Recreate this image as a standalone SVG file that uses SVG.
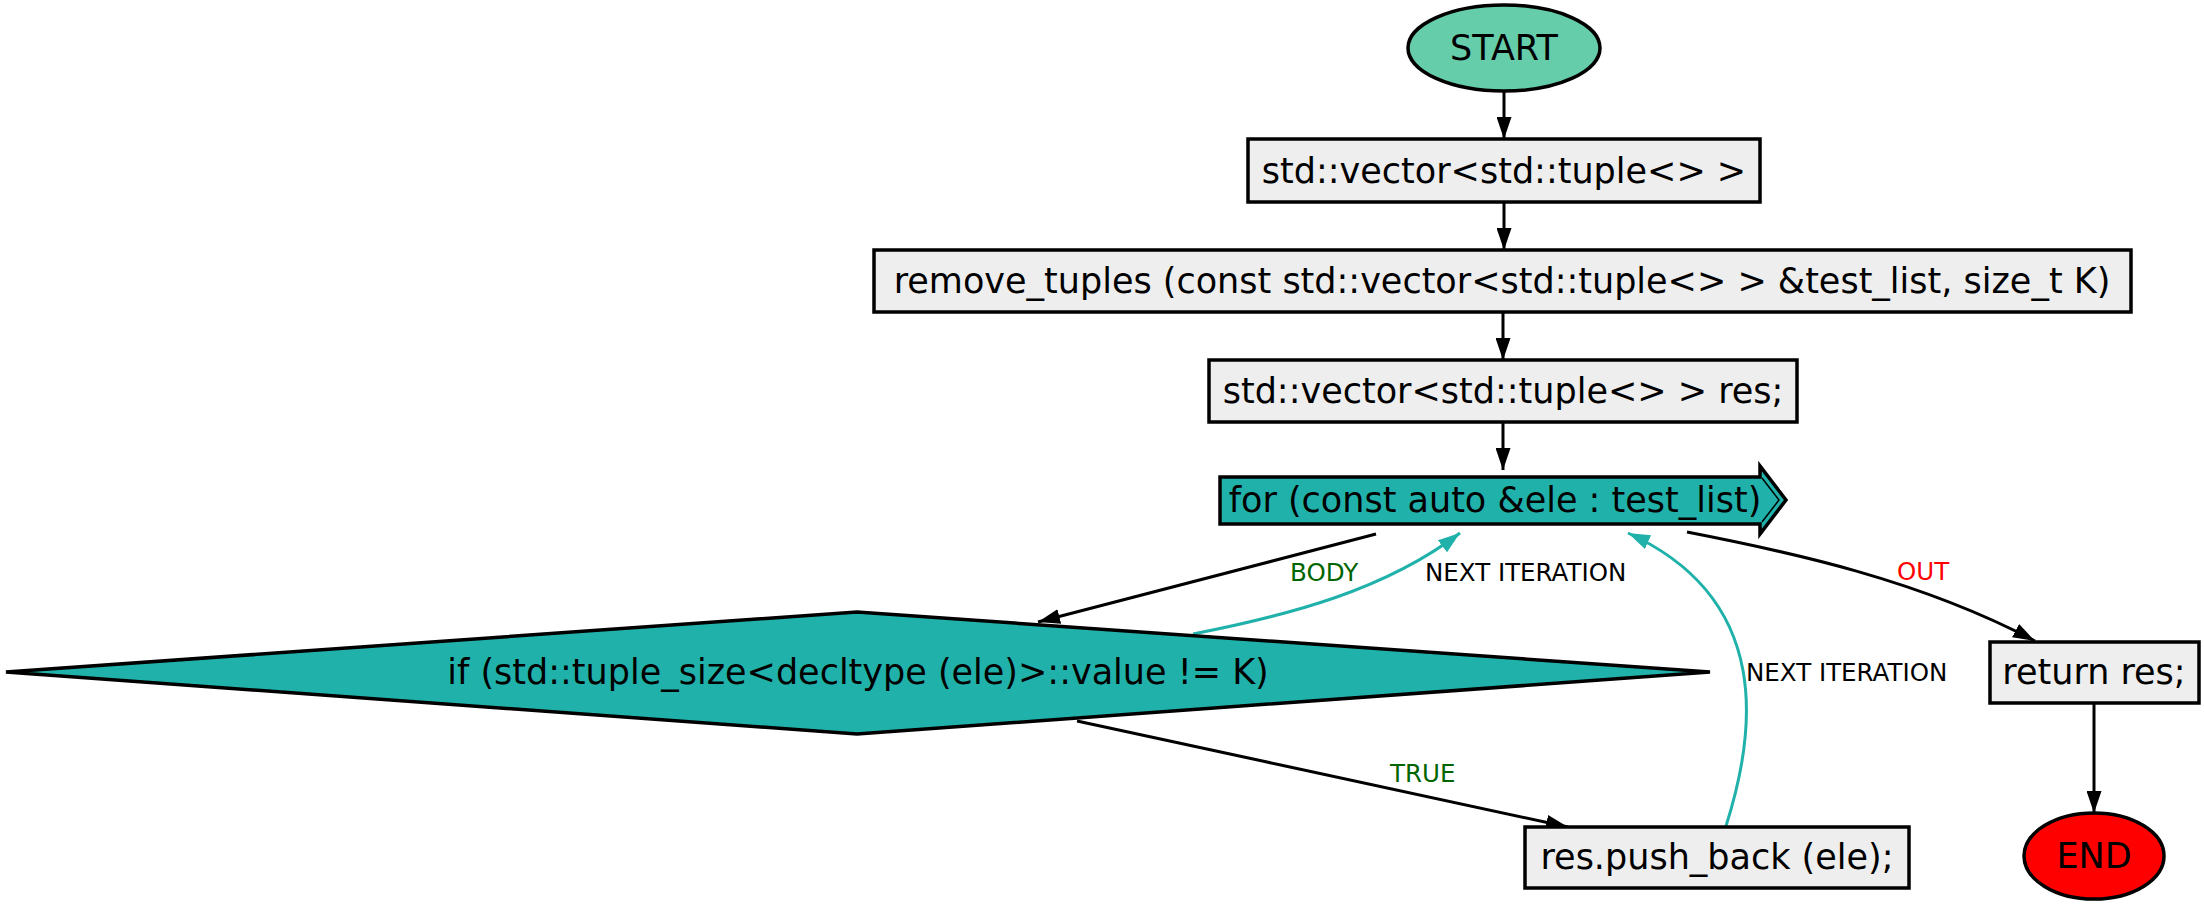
<svg xmlns="http://www.w3.org/2000/svg" width="2204" height="906" viewBox="0 0 2204 906">
<defs>
<marker id="ab" viewBox="0 0 22 15" refX="22" refY="7.5" markerWidth="22" markerHeight="15" markerUnits="userSpaceOnUse" orient="auto"><path d="M0,0 L22,7.5 L0,15 Z" fill="#000"/></marker>
<marker id="at" viewBox="0 0 22 15" refX="22" refY="7.5" markerWidth="22" markerHeight="15" markerUnits="userSpaceOnUse" orient="auto"><path d="M0,0 L22,7.5 L0,15 Z" fill="#20b2aa"/></marker>
</defs>
<style>
.n{stroke:#000;stroke-width:3.5}
.box{fill:#eeeeee}
.t{font-family:"DejaVu Sans","Verdana",sans-serif;font-size:35px;fill:#000;text-anchor:middle}
.l{font-family:"DejaVu Sans","Verdana",sans-serif;font-size:24.5px}
.e{fill:none;stroke:#000;stroke-width:3}
.et{fill:none;stroke:#20b2aa;stroke-width:3}
</style>
<rect width="2204" height="906" fill="#fff"/>
<g id="connectors">
<line class="e" x1="1504" y1="92" x2="1504" y2="139" marker-end="url(#ab)"/>
<line class="e" x1="1504" y1="202" x2="1504" y2="250" marker-end="url(#ab)"/>
<line class="e" x1="1503" y1="312" x2="1503" y2="360" marker-end="url(#ab)"/>
<line class="e" x1="1503" y1="422" x2="1503" y2="470" marker-end="url(#ab)"/>
<line class="e" x1="1376" y1="534" x2="1038" y2="622" marker-end="url(#ab)"/>
<path class="et" d="M1193,634 C1290,615 1385,590 1460,533" marker-end="url(#at)"/>
<path class="e" d="M1687,532 C1790,552 1920,580 2035,641" marker-end="url(#ab)"/>
<line class="e" x1="1077" y1="721" x2="1568" y2="827" marker-end="url(#ab)"/>
<path class="et" d="M1726,826 C1755,735 1775,600 1628,533" marker-end="url(#at)"/>
<line class="e" x1="2094" y1="703" x2="2094" y2="813" marker-end="url(#ab)"/>
<text class="l" x="1290" y="581" fill="#006400">BODY</text>
<text class="l" x="1425" y="581" fill="#000">NEXT ITERATION</text>
<text class="l" x="1897" y="580" fill="#ff0000">OUT</text>
<text class="l" x="1390" y="782" fill="#006400">TRUE</text>
<text class="l" x="1746" y="681" fill="#000">NEXT ITERATION</text>
</g>
<g id="start"><ellipse class="n" cx="1504" cy="48" rx="96" ry="43" fill="#66cdaa"/><text class="t" x="1504" y="60">START</text></g>
<g id="decl"><rect class="n box" x="1248" y="139" width="512" height="63"/><text class="t" x="1504" y="183">std::vector&lt;std::tuple&lt;&gt; &gt;</text></g>
<g id="func"><rect class="n box" x="874" y="250" width="1257" height="62"/><text class="t" x="1502" y="293">remove_tuples (const std::vector&lt;std::tuple&lt;&gt; &gt; &amp;test_list, size_t K)</text></g>
<g id="res"><rect class="n box" x="1209" y="360" width="588" height="62"/><text class="t" x="1503" y="403">std::vector&lt;std::tuple&lt;&gt; &gt; res;</text></g>
<g id="for"><path class="n" d="M1220,477 L1760,477 L1760,466 L1786,500 L1760,534 L1760,524 L1220,524 Z" fill="#20b2aa"/><polyline points="1762,478 1779,500 1762,522" fill="none" stroke="#000" stroke-width="1.5"/><text class="t" x="1495" y="512">for (const auto &amp;ele : test_list)</text></g>
<g id="if"><polygon class="n" points="6,672 857,612 1710,672 857,734" fill="#20b2aa"/><text class="t" x="858" y="684">if (std::tuple_size&lt;decltype (ele)&gt;::value != K)</text></g>
<g id="push"><rect class="n box" x="1525" y="827" width="384" height="61"/><text class="t" x="1717" y="869">res.push_back (ele);</text></g>
<g id="ret"><rect class="n box" x="1990" y="642" width="209" height="61"/><text class="t" x="2094" y="684">return res;</text></g>
<g id="end"><ellipse class="n" cx="2094" cy="856" rx="70" ry="43" fill="#ff0000"/><text class="t" x="2094" y="868">END</text></g>
</svg>
